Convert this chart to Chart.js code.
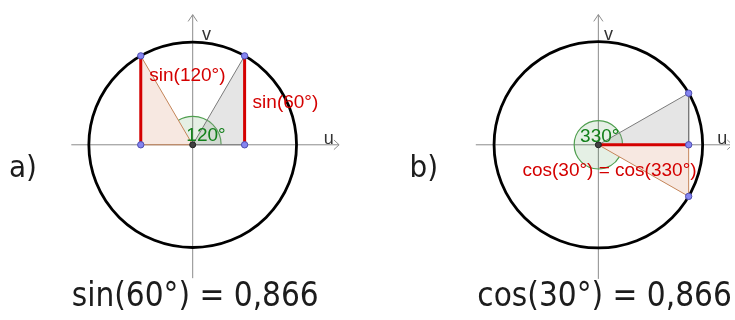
<!DOCTYPE html>
<html>
<head>
<meta charset="utf-8">
<script src="https://cdn.jsdelivr.net/npm/chart.js@4.4.1/dist/chart.umd.min.js"></script>
<style>
  html, body { margin: 0; padding: 0; background: #fff; }
  #wrap { position: relative; width: 735px; height: 320px; overflow: hidden; }
  canvas { position: absolute; top: 0; }
  #chartA { left: 0; }
  #chartB { left: 400px; }
</style>
</head>
<body>
<div id="wrap">
  <canvas id="chartA" width="400" height="320"></canvas>
  <canvas id="chartB" width="335" height="320"></canvas>
</div>
<script>
// panel a) : sin(60°) and sin(120°) on the unit circle
const aAngle = 120;                           // green sector, degrees
const aTop = [[0.5, 0.866], [-0.5, 0.866]];   // points on the circle
const aFoot = [[0.5, 0], [-0.5, 0]];          // their feet on the u axis
const aTexts = ["sin(120°)", "sin(60°)", "120°"];
const aCaption = ["a)", "sin(60°) = 0,866"];

// panel b) : cos(30°) and cos(330°)
const bAngle = 330;
const bTop = [[0.866, 0.5], [0.866, -0.5]];
const bFoot = [[0.866, 0]];
const bTexts = ["330°", "cos(30°) = cos(330°)"];
const bCaption = ["b)", "cos(30°) = 0,866"];

const axisNames = ["u", "v"];

const RED = "#d40000";
const GREEN = "#12801a";
const INK = "#1c1c1c";
const GREY_EDGE = "#7a7a7a";
const PINK_EDGE = "#c48458";

const pt = p => ({ x: p[0], y: p[1] });
const O = { x: 0, y: 0 };

function line(data, color, width, order, extra) {
  return Object.assign({
    data, borderColor: color, borderWidth: width, pointRadius: 0,
    fill: false, tension: 0, order
  }, extra || {});
}

// triangle origin - point on circle - foot, filled down/up to the u axis
function triangle(top, foot, edge, bg, order) {
  const pts = [O, pt(top), pt(foot)];
  if (top[0] < 0) pts.reverse();   // keep x ascending for the filler
  return line(pts, edge, 1, order, { fill: "origin", backgroundColor: bg });
}

function makePanel(cfg) {
  const canvas = document.getElementById(cfg.id);
  const w = canvas.width, h = canvas.height;

  const ds = [];
  // axes + arrow heads
  const [u0, u1] = cfg.uAxis, [v0, v1] = cfg.vAxis;
  ds.push(line([{ x: u0, y: 0 }, { x: u1, y: 0 }], "#8c8c8c", 1, 6));
  ds.push(line([{ x: u1 - 0.05, y: 0.047 }, { x: u1, y: 0 }, { x: u1 - 0.05, y: -0.047 }], "#8c8c8c", 1, 6));
  ds.push(line([{ x: -0.044, y: v1 - 0.066 }, { x: 0, y: v1 }, { x: 0.044, y: v1 - 0.066 }], "#8c8c8c", 1, 6));
  ds.push(line([{ x: 0, y: v0 }, { x: 0, y: v1 }], "#8c8c8c", 1, 5, { decorAfter: true }));

  // triangles
  const lastFoot = cfg.foot[cfg.foot.length - 1];
  ds.push(triangle(cfg.top[0], cfg.foot[0], GREY_EDGE, "rgba(153,153,153,0.26)", 3));
  ds.push(triangle(cfg.top[1], lastFoot, PINK_EDGE, "rgba(204,102,51,0.15)", 3));
  // triangle bases on the u axis
  ds.push(line([O, pt(cfg.foot[0])], GREY_EDGE, 1, 2));
  ds.push(line([pt(lastFoot), O], PINK_EDGE, 1, 2));

  // red segments
  cfg.red.forEach(seg => ds.push(line(seg, RED, 3, 1)));

  // points
  ds.push({
    data: cfg.top.concat(cfg.foot).map(pt), showLine: false, order: 0,
    pointRadius: 3.2, pointBackgroundColor: "#8585f0", pointBorderColor: "#4c4cb0",
    pointBorderWidth: 1, borderColor: "transparent"
  });
  ds.push({
    data: [O], showLine: false, order: 0, pointRadius: 3,
    pointBackgroundColor: "#404040", pointBorderColor: "#202020", borderColor: "transparent"
  });

  const decor = {
    id: "decor_" + cfg.id,
    afterDatasetDraw(chart, args) {
      if (!chart.data.datasets[args.index].decorAfter) return;
      const ctx = chart.ctx, X = chart.scales.x, Y = chart.scales.y;
      const cx = X.getPixelForValue(0), cy = Y.getPixelForValue(0);
      const rx = X.getPixelForValue(1) - cx, ry = cy - Y.getPixelForValue(1);
      const ang = cfg.angle * Math.PI / 180;
      ctx.save();
      // angle sector
      const ar = cfg.arcR * rx;
      ctx.beginPath();
      ctx.moveTo(cx, cy);
      ctx.arc(cx, cy, ar, 0, -ang, true);
      ctx.closePath();
      ctx.fillStyle = "rgba(0,110,0,0.1)";
      ctx.fill();
      ctx.beginPath();
      ctx.arc(cx, cy, ar, 0, -ang, true);
      ctx.strokeStyle = "#4f9f4f";
      ctx.lineWidth = 1.2;
      ctx.stroke();
      // unit circle
      ctx.beginPath();
      ctx.ellipse(cx, cy, rx, ry, 0, 0, Math.PI * 2);
      ctx.strokeStyle = "#000";
      ctx.lineWidth = 2.8;
      ctx.stroke();
      ctx.restore();
    },
    afterDraw(chart) {
      const ctx = chart.ctx, X = chart.scales.x, Y = chart.scales.y;
      ctx.save();
      ctx.textAlign = "left";
      ctx.textBaseline = "alphabetic";
      cfg.labels.forEach(l => {
        ctx.font = l.font;
        ctx.fillStyle = l.color;
        ctx.fillText(l.text, X.getPixelForValue(l.x), Y.getPixelForValue(l.y));
      });
      ctx.restore();
    }
  };

  return new Chart(canvas, {
    type: "line",
    data: { datasets: ds },
    options: {
      responsive: false,
      animation: false,
      devicePixelRatio: 1,
      layout: { padding: 0 },
      plugins: { legend: { display: false }, tooltip: { enabled: false } },
      scales: {
        x: { type: "linear", display: false, min: -cfg.cx / cfg.rx, max: (w - cfg.cx) / cfg.rx },
        y: { type: "linear", display: false, min: -(h - cfg.cy) / cfg.ry, max: cfg.cy / cfg.ry }
      }
    },
    plugins: [decor]
  });
}

const LABEL_FONT = '19px "Liberation Sans", Arial, sans-serif';
const AXIS_FONT = '18px "Liberation Sans", Arial, sans-serif';
const BIG_FONT = '33px "DejaVu Sans Condensed", "DejaVu Sans", sans-serif';
const TAG_FONT = '31px "DejaVu Sans Condensed", "DejaVu Sans", sans-serif';

makePanel({
  id: "chartA", cx: 192.5, cy: 144.3, rx: 106.5, ry: 106,
  angle: aAngle, arcR: 0.274,
  top: aTop, foot: aFoot,
  red: [[pt(aFoot[0]), pt(aTop[0])], [pt(aFoot[1]), pt(aTop[1])]],
  uAxis: [-1.169, 1.41], vAxis: [-1.299, 1.267],
  labels: [
    { text: aTexts[0], x: -0.418, y: 0.618, font: LABEL_FONT, color: RED },
    { text: aTexts[1], x: 0.577, y: 0.361, font: LABEL_FONT, color: RED },
    { text: aTexts[2], x: -0.061, y: 0.041, font: LABEL_FONT, color: GREEN },
    { text: axisNames[0], x: 1.263, y: 0.012, font: AXIS_FONT, color: "#333" },
    { text: axisNames[1], x: 0.089, y: 1.022, font: AXIS_FONT, color: "#333" },
    { text: aCaption[0], x: -1.77, y: -0.318, font: TAG_FONT, color: INK },
    { text: aCaption[1], x: -1.165, y: -1.573, font: BIG_FONT, color: INK }
  ]
});

makePanel({
  id: "chartB", cx: 199.3, cy: 144.3, rx: 107.5, ry: 106.5,
  angle: bAngle, arcR: 0.232,
  top: bTop, foot: bFoot,
  red: [[O, pt(bFoot[0])]],
  uAxis: [-1.175, 1.286], vAxis: [-1.30, 1.262],
  labels: [
    { text: bTexts[0], x: -0.175, y: 0.024, font: LABEL_FONT, color: GREEN },
    { text: bTexts[1], x: -0.728, y: -0.298, font: LABEL_FONT, color: RED },
    { text: axisNames[0], x: 1.141, y: 0.012, font: AXIS_FONT, color: "#333" },
    { text: axisNames[1], x: 0.053, y: 1.017, font: AXIS_FONT, color: "#333" },
    { text: bCaption[0], x: -1.81, y: -0.316, font: TAG_FONT, color: INK },
    { text: bCaption[1], x: -1.16, y: -1.565, font: BIG_FONT, color: INK }
  ]
});
</script>
</body>
</html>
